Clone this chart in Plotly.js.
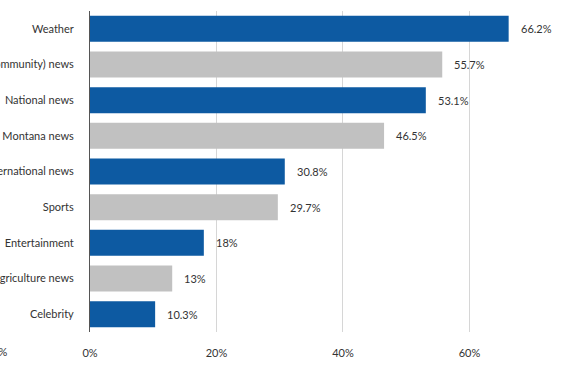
<!DOCTYPE html>
<html>
<head>
<meta charset="utf-8">
<script src="https://cdn.plot.ly/plotly-3.0.1.min.js"></script>
<style>html,body{margin:0;padding:0;background:#fff;overflow:hidden}</style>
</head>
<body>
<div id="chart" style="width:570px;height:381px"></div>
<script>
const categories = ["Weather", "Local (community) news", "National news", "Montana news", "International news", "Sports", "Entertainment", "Agriculture news", "Celebrity"];
const values = [66.2, 55.7, 53.1, 46.5, 30.8, 29.7, 18, 13, 10.3];
const valueLabels = ["66.2%", "55.7%", "53.1%", "46.5%", "30.8%", "29.7%", "18%", "13%", "10.3%"];
const tickValues = [0, 20, 40, 60];
const tickLabels = ["0%", "20%", "40%", "60%"];

const blue = "#0d5aa2", gray = "#c1c1c1";
const colors = categories.map((c, i) => i % 2 === 0 ? blue : gray);
const font = "Lato, 'Source Sans Pro', 'Open Sans', sans-serif";

const trace = {
  type: "bar", orientation: "h",
  x: values, y: categories,
  marker: {color: colors},
  hoverinfo: "none"
};

const annotations = values.map((v, i) => ({
  x: v, y: categories[i], xref: "x", yref: "y",
  text: valueLabels[i], showarrow: false,
  xanchor: "left", xshift: 10,
  font: {family: font, size: 11, color: "#333"}
}));
annotations.push({
  x: (8.5 - 90) / 480, y: -0.062, xref: "paper", yref: "paper",
  text: "0%", showarrow: false, xanchor: "right", yanchor: "middle",
  font: {family: font, size: 11, color: "#333"}
});

const layout = {
  width: 570, height: 381,
  margin: {l: 90, r: 0, t: 11, b: 48.5, pad: 0},
  paper_bgcolor: "#fff", plot_bgcolor: "#fff",
  showlegend: false,
  bargap: 0.27,
  font: {family: font, size: 11, color: "#333"},
  xaxis: {
    range: [0, 75.9], tickvals: tickValues, ticktext: tickLabels,
    showgrid: true, gridcolor: "#d6d6d6", gridwidth: 1,
    zeroline: false, showline: false,
    ticks: "outside", ticklen: 11, tickcolor: "rgba(0,0,0,0)",
    tickfont: {family: font, size: 11, color: "#333"},
    automargin: false, fixedrange: true
  },
  yaxis: {
    autorange: "reversed",
    showgrid: false, zeroline: false,
    showline: true, linecolor: "#555", linewidth: 1,
    ticks: "outside", ticklen: 13, tickcolor: "rgba(0,0,0,0)",
    tickfont: {family: font, size: 11, color: "#333"},
    automargin: false, fixedrange: true
  },
  annotations: annotations
};

Plotly.newPlot("chart", [trace], layout, {displayModeBar: false, staticPlot: true});
</script>
</body>
</html>
